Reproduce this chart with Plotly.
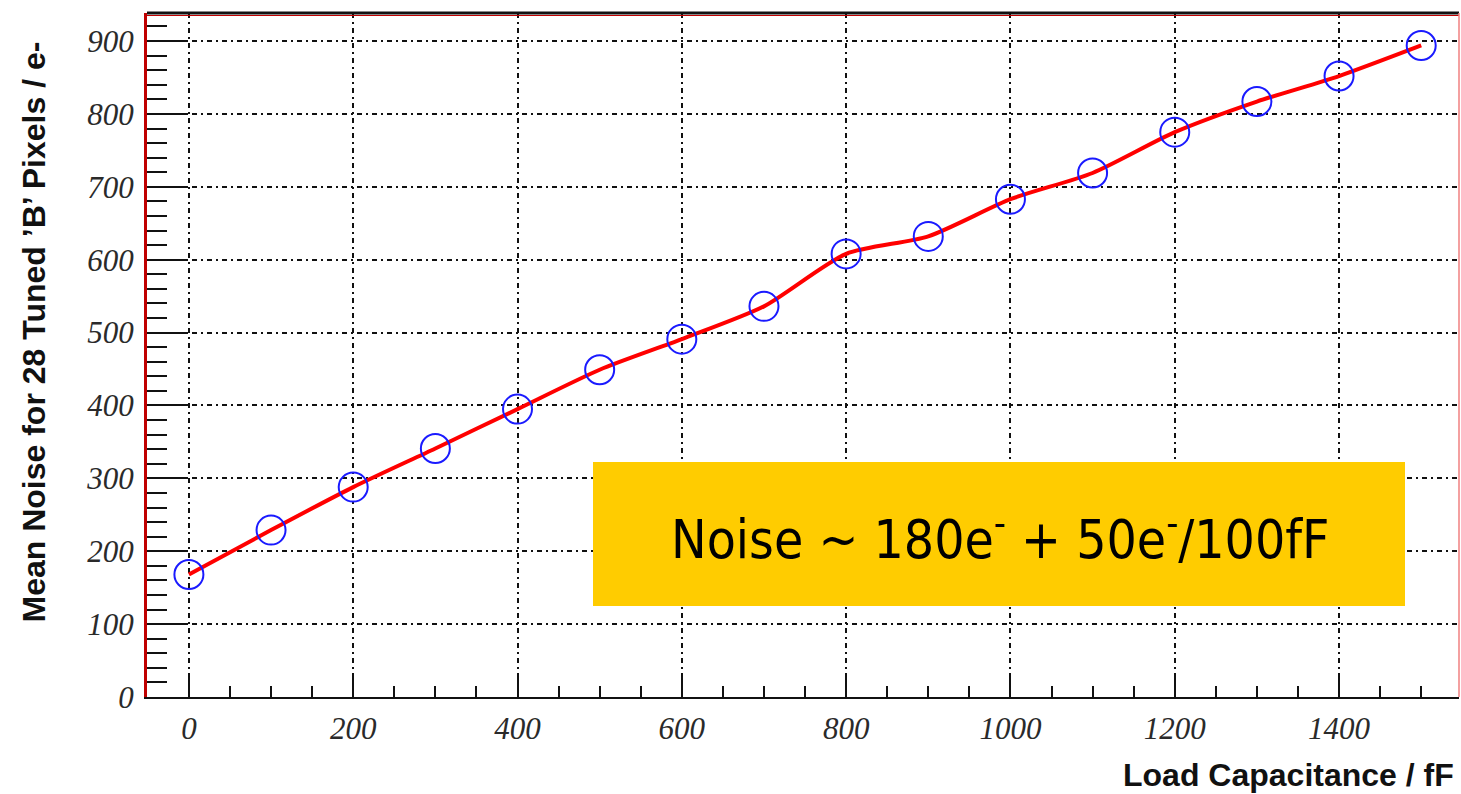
import plotly.graph_objects as go

# ---- data ----
capacitance_fF = [0, 100, 200, 300, 400, 500, 600, 700, 800, 900, 1000, 1100, 1200, 1300, 1400, 1500]
mean_noise_e = [168, 229, 288, 341, 395, 449, 491, 536, 608, 632, 683, 719, 775, 817, 852, 894]
x_tick_vals = [0, 200, 400, 600, 800, 1000, 1200, 1400]
y_tick_vals = [0, 100, 200, 300, 400, 500, 600, 700, 800, 900]

W, H = 1461, 794
L, R, T, B = 147, 2, 13, 97
PW, PH = W - L - R, H - T - B


def px(xp):
    return (xp - L) / PW


def py(yp):
    return (H - B - yp) / PH


fig = go.Figure()

fig.add_trace(go.Scatter(
    x=capacitance_fF, y=mean_noise_e, mode="lines",
    line=dict(color="#ff0000", width=4, shape="spline", smoothing=0.7),
    showlegend=False, hoverinfo="skip"))
fig.add_trace(go.Scatter(
    x=capacitance_fF, y=mean_noise_e, mode="markers",
    marker=dict(symbol="circle-open", size=29, color="#1a1aff", line=dict(width=2, color="#1a1aff")),
    showlegend=False))

tickfont = dict(family="Liberation Serif, Times New Roman, serif", size=31, color="#2a2a2a", style="italic")
griddash = "5px,4px,2px,4px"

fig.update_xaxes(
    range=[-51, 1546], tickmode="array", tickvals=x_tick_vals,
    ticks="inside", ticklen=22, tickwidth=2, tickcolor="#111",
    minor=dict(dtick=50, tick0=0, ticks="inside", ticklen=11, tickwidth=2, tickcolor="#111", showgrid=False),
    showgrid=True, gridcolor="#111", gridwidth=2, griddash=griddash,
    showline=True, linecolor="#111", linewidth=2,
    zeroline=False, tickfont=tickfont, ticklabelstandoff=3)

fig.update_yaxes(
    range=[0, 938.5], tickmode="array", tickvals=y_tick_vals,
    ticks="inside", ticklen=41, tickwidth=2, tickcolor="#111",
    minor=dict(dtick=20, tick0=0, ticks="inside", ticklen=20, tickwidth=2, tickcolor="#111", showgrid=False),
    showgrid=True, gridcolor="#111", gridwidth=2, griddash=griddash,
    showline=True, linecolor="#c00000", linewidth=3,
    zeroline=False, tickfont=tickfont, ticklabelstandoff=4)

shapes = [
    # frame top and right
    dict(type="line", xref="paper", yref="paper", x0=0, x1=1, y0=1, y1=1, line=dict(color="#111", width=3)),
    dict(type="line", xref="paper", yref="paper", x0=0, x1=1, y0=py(T + 2.5), y1=py(T + 2.5), line=dict(color="#c00000", width=1)),
    dict(type="line", xref="paper", yref="paper", x0=1, x1=1, y0=0, y1=1, line=dict(color="#f08080", width=1.5)),
    # yellow annotation box
    dict(type="rect", xref="paper", yref="paper", x0=px(593), x1=px(1405), y0=py(606), y1=py(462),
         fillcolor="#ffcc00", line=dict(width=0), layer="above"),
]

annotations = [
    dict(text="Noise ~ 180e<sup>-</sup> + 50e<sup>-</sup>/100fF", xref="paper", yref="paper",
         x=px(1000), y=py(536), xanchor="center", yanchor="middle", showarrow=False,
         font=dict(family="Liberation Sans Narrow, DejaVu Sans Condensed, Roboto Condensed, sans-serif", size=53, color="#000")),
    dict(text="<b>Load Capacitance / fF</b>", xref="paper", yref="paper",
         x=px(1456), y=py(775), xanchor="right", yanchor="middle", showarrow=False,
         font=dict(family="Liberation Sans, Arial, sans-serif", size=32, color="#111")),
    dict(text="<b>Mean Noise for 28 Tuned ’B’ Pixels / e-</b>", xref="paper", yref="paper",
         x=px(33), y=py(40), xanchor="center", yanchor="top", textangle=-90, showarrow=False,
         font=dict(family="Liberation Sans, Arial, sans-serif", size=32, color="#111")),
]

fig.update_layout(
    width=W, height=H, margin=dict(l=L, r=R, t=T, b=B),
    paper_bgcolor="white", plot_bgcolor="white",
    shapes=shapes, annotations=annotations, showlegend=False)

fig.write_html("out.html")
